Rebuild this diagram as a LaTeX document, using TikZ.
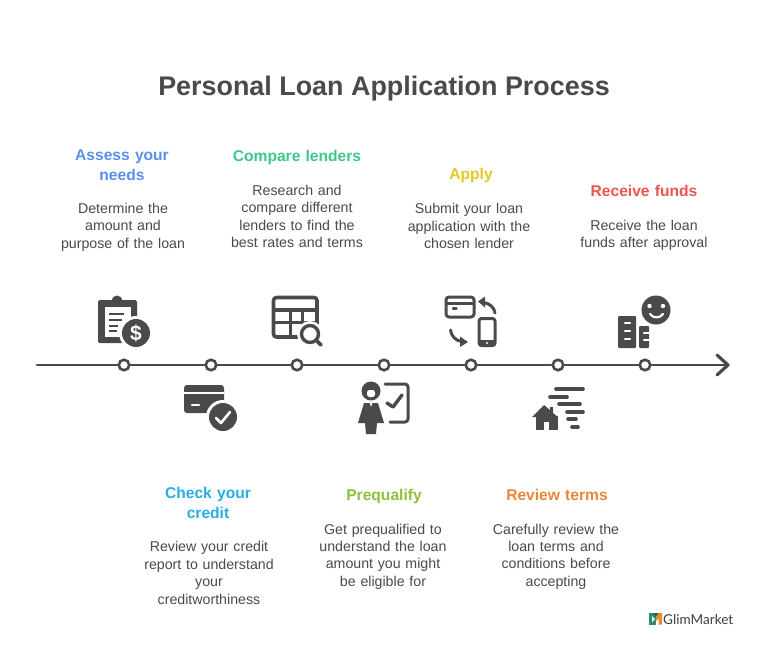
\documentclass[tikz,border=0pt]{standalone}
\usepackage{fontspec}
\setmainfont{Liberation Sans}
\newfontfamily\logofont{Lato}
\definecolor{ink}{HTML}{4A4A4A}
\definecolor{cblue}{HTML}{5B8FEF}
\definecolor{cgreen}{HTML}{3CC88C}
\definecolor{cyellow}{HTML}{E2CB1E}
\definecolor{cred}{HTML}{EF5350}
\definecolor{ccyan}{HTML}{26AEE3}
\definecolor{clime}{HTML}{8DC13C}
\definecolor{corange}{HTML}{E8863A}
\definecolor{lgreen}{HTML}{2E8B6F}
\definecolor{lorange}{HTML}{EF8A2B}
\tikzset{
  head/.style={font=\fontsize{15.6}{20}\selectfont\bfseries,align=center,text width=150pt,inner sep=0pt},
  body/.style={font=\fontsize{14.2}{17.4}\selectfont,text=ink,align=center,text width=150pt,inner sep=0pt},
  tick/.style={circle,draw=ink,fill=white,line width=2.6pt,minimum size=10.500pt,inner sep=0pt},
  inkline/.style={draw=ink,line width=2.8pt,line cap=round,line join=round},
  wline/.style={draw=white,line width=1.8pt,line cap=round,line join=round},
}
\begin{document}
\begin{tikzpicture}[x=1pt,y=-1pt]
\useasboundingbox[fill=white] (0,0) rectangle (768,656);
\node[font=\fontsize{26.9}{32}\selectfont\bfseries,text=ink,inner sep=0pt] (title) at (384,89) {Personal Loan Application Process};
% timeline
\coordinate (start) at (37,365);
\coordinate (end) at (728,365);
\coordinate (tipa) at (717,355);
\coordinate (tipb) at (717,375);
\draw[inkline] (start) -- (end);
\draw[inkline,line width=3.2pt] (tipa) -- (end) -- (tipb);
\foreach \n/\x in {t1/124,t2/211,t3/297,t4/384,t5/471,t6/558,t7/645}{\node[tick] (\n) at (\x,365) {};}
% top labels
\node[head,text=cblue] (h1) at (122,165) {Assess your\\needs};
\node[body] (b1) at (123,227) {Determine the\\amount and\\purpose of the loan};
\node[head,text=cgreen] (h3) at (297,157) {Compare lenders};
\node[body] (b3) at (297,216.500) {Research and\\compare different\\lenders to find the\\best rates and terms};
\node[head,text=cyellow] (h5) at (471,175) {Apply};
\node[body] (b5) at (469,226) {Submit your loan\\application with the\\chosen lender};
\node[head,text=cred] (h7) at (644,191) {Receive funds};
\node[body] (b7) at (644,235.500) {Receive the loan\\funds after approval};
% bottom labels
\node[head,text=ccyan] (h2) at (208,503) {Check your\\credit};
\node[body] (b2) at (209,573) {Review your credit\\report to understand\\your\\creditworthiness};
\node[head,text=clime] (h4) at (384,496) {Prequalify};
\node[body] (b4) at (383,556.500) {Get prequalified to\\understand the loan\\amount you might\\be eligible for};
\node[head,text=corange] (h6) at (557,495) {Review terms};
\node[body] (b6) at (556,556.500) {Carefully review the\\loan terms and\\conditions before\\accepting};
% icon 1: clipboard with dollar
\fill[ink,rounded corners=1.5pt] (98,300) rectangle (137,343);
\fill[ink] (117,301) circle (5.5);
\fill[white] (105,307) rectangle (131,337);
\fill[ink,rounded corners=1pt] (108,301) rectangle (127,306);
\foreach \y/\xe in {314/124,320/122,326/118,331/117}{\draw[draw=ink,line width=2.6pt] (109,\y) -- (\xe,\y);}
\fill[white] (136,333) circle (17);
\fill[ink] (136,333) circle (14);
\node[font=\fontsize{21}{21}\selectfont\bfseries,text=white,inner sep=0pt] (dollar) at (136,333) {\$};
% icon 2: card with check
\fill[ink,rounded corners=3pt] (184,385) rectangle (224,413);
\draw[draw=white,line width=1.8pt] (184,393) -- (224,393);
\draw[wline,line width=2.2pt] (192,405) -- (199,405);
\fill[white] (223,417) circle (17);
\fill[ink] (223,417) circle (14);
\draw[wline,line width=2.6pt] (216,418) -- (221,423) -- (230,412);
% icon 3: table with magnifier
\draw[inkline,line width=3.6pt,rounded corners=3pt] (273.500,297.500) rectangle (317,337);
\draw[draw=ink,line width=3.4pt] (273,310) -- (317,310);
\draw[draw=ink,line width=3pt] (273,322.500) -- (317,322.500);
\draw[draw=ink,line width=3pt] (290,310) -- (290,337);
\draw[draw=ink,line width=3pt] (302,310) -- (302,322.500);
\fill[white] (310,334) circle (13);
\draw[draw=ink,line width=3.4pt] (310,334) circle (8.500);
\draw[inkline,line width=3.6pt] (316.500,340.500) -- (321,345);
% icon 4: person with board
\fill[ink] (371,391) circle (9.500);
\fill[white,rounded corners=2.5pt] (367,390) rectangle (375,397);
\fill[ink] (364,403) -- (378,403) -- (384,423) -- (377,423) -- (376,434) -- (366,434) -- (365,423) -- (358,423) -- cycle;
\fill[white] (369.500,402.500) -- (372.500,402.500) -- (371,407) -- cycle;
\draw[inkline,line width=3pt,rounded corners=3pt] (385,384) -- (408,384) -- (408,422) -- (390,422);
\draw[inkline,line width=3.4pt] (387,403) -- (393,407) -- (402,395);
% icon 5: card, phone, arrows
\draw[inkline,line width=3pt,rounded corners=3pt] (446,297) rectangle (474,317);
\draw[inkline,line width=3pt,line cap=butt] (446,303.500) -- (474,303.500);
\draw[inkline,line width=2.4pt] (453,308.500) -- (456.500,308.500);
\draw[inkline,line width=3pt] (495,313) .. controls (494.500,308) and (490,303) .. (483,302.500);
\fill[ink] (478,301.500) -- (485,296.500) -- (485,307.500) -- cycle;
\draw[inkline,line width=3pt,rounded corners=2.5pt] (479,318.500) rectangle (495,345.500);
\fill[ink] (479,340) rectangle (495,345);
\fill[white] (487,343) circle (1.100);
\draw[inkline,line width=3pt] (450.500,330) .. controls (451,335) and (455,341) .. (462,341.500);
\fill[ink] (468,342) -- (460,336.500) -- (460,347) -- cycle;
% icon 6: house and wind lines
\fill[ink] (544,405) -- (550,410) -- (550,407) -- (553,407) -- (553,413) -- (558,417) -- (532,417) -- cycle;
\fill[ink] (536,416) rectangle (557.500,429.500);
\fill[white] (544,422) rectangle (549,430);
\foreach \a/\b/\y in {556/583/389,550/567/397,559/580/404,567/583/412,568/576/419,572/578/427}{\draw[inkline,line width=3.600pt] (\a,\y) -- (\b,\y);}
% icon 7: smile and buildings
\fill[ink] (656,310) circle (14.500);
\fill[white] (649.500,306) circle (2.200) (663,306) circle (2.200);
\draw[wline,line width=2.2pt] (650,314) .. controls (653,318.500) and (660,318.500) .. (663,314);
\fill[ink,rounded corners=1pt] (618,316) rectangle (636,348);
\foreach \y in {323,331,339}{\draw[wline,line width=2.6pt] (625,\y) -- (630,\y);}
\fill[ink,rounded corners=1pt] (639,326) rectangle (649,348);
\foreach \y in {333,340}{\draw[wline,line width=2.4pt] (644,\y) -- (650,\y);}
% logo
\fill[lgreen] (649,613) rectangle (656,624.500);
\fill[lgreen!70!black] (653,613) -- (659,613) -- (656,617) -- cycle;
\fill[white] (652,616) -- (655,619) -- (652,622) -- cycle;
\fill[lorange] (656,617) -- (659,613) -- (662,613) -- (662,624.500) -- (658.500,624.500) -- (658.500,618.500) -- (656,621) -- cycle;
\node[font=\logofont\fontsize{13.6}{16}\selectfont,text=ink!85!black,anchor=west,inner sep=0pt] (logo) at (663,619.500) {GlimMarket};
\end{tikzpicture}
\end{document}
